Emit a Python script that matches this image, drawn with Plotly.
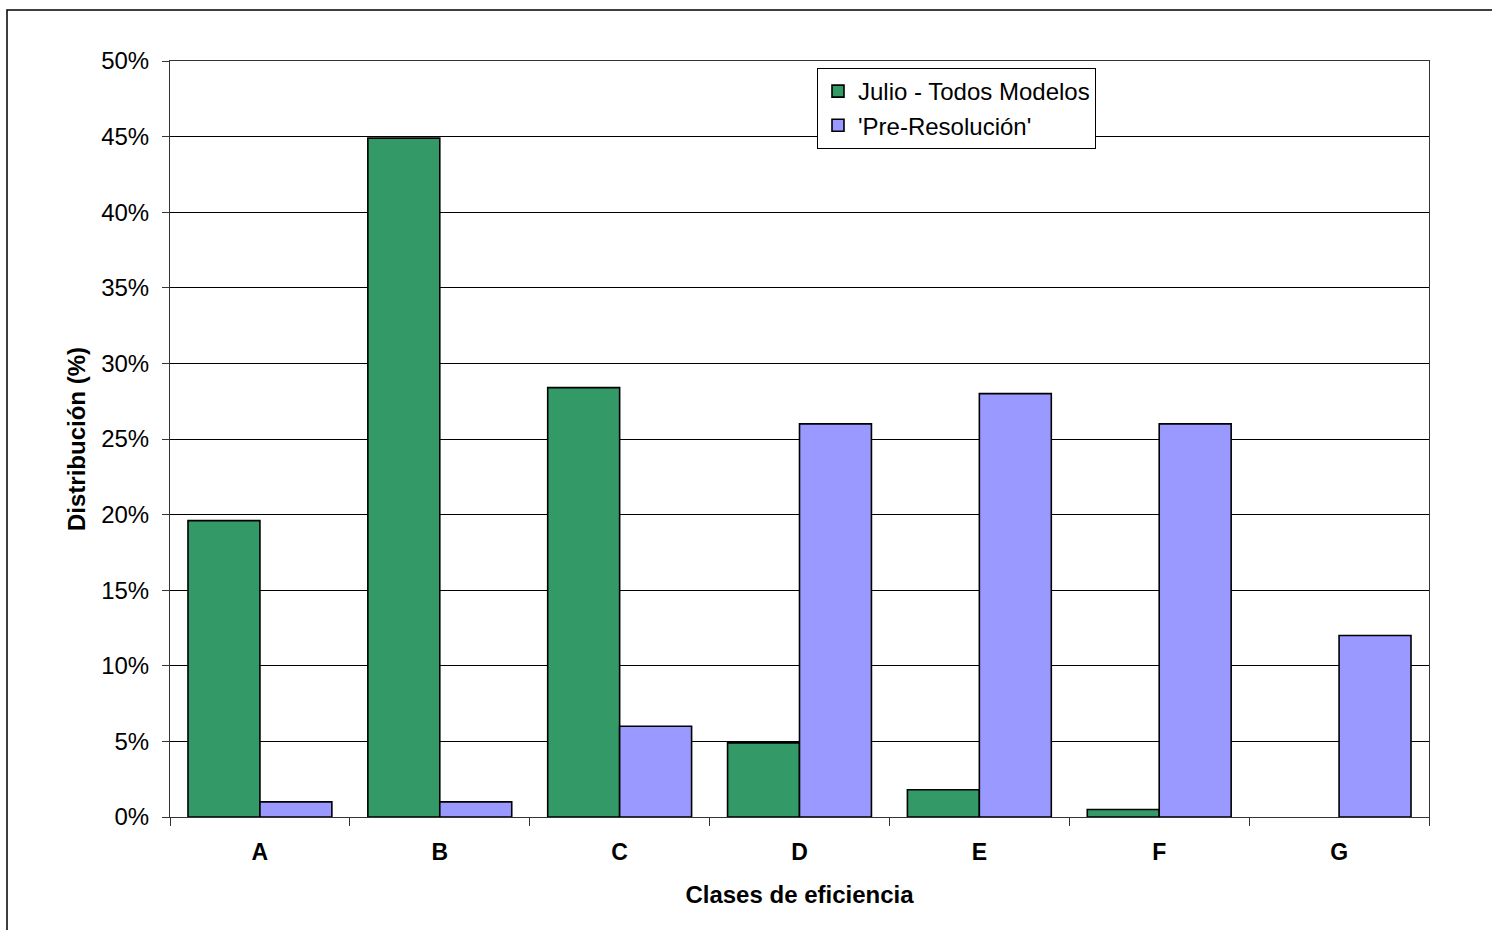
import plotly.graph_objects as go

categories = ["A", "B", "C", "D", "E", "F", "G"]
julio_todos = [19.6, 44.9, 28.4, 4.9, 1.8, 0.5, 0.0]
pre_resolucion = [1.0, 1.0, 6.0, 26.0, 28.0, 26.0, 12.0]
y_ticks = [0, 5, 10, 15, 20, 25, 30, 35, 40, 45, 50]
y_tick_text = [f"{v}%" for v in y_ticks]

FONT = "Arial, Liberation Sans, sans-serif"

# empty categories get no outline so no stray line sits on the axis
julio_outline = [1.6 if v > 0 else 0 for v in julio_todos]
pre_outline = [1.6 if v > 0 else 0 for v in pre_resolucion]

fig = go.Figure()
fig.add_trace(go.Bar(
    x=categories, y=julio_todos, name="Julio - Todos Modelos",
    marker=dict(color="#339966", line=dict(color="#000000", width=julio_outline)),
))
fig.add_trace(go.Bar(
    x=categories, y=pre_resolucion, name="'Pre-Resolución'",
    marker=dict(color="#9999FF", line=dict(color="#000000", width=pre_outline)),
))

W, H = 1492, 930
L, R, T, B = 170, 63, 61, 113
pw, ph = W - L - R, H - T - B

fig.update_layout(
    width=W, height=H,
    margin=dict(l=L, r=R, t=T, b=B),
    paper_bgcolor="white", plot_bgcolor="white",
    barmode="group", bargap=0.2, bargroupgap=0,
    font=dict(family=FONT, color="black", size=24),
    showlegend=True,
    legend=dict(
        x=(817 - L) / pw, y=(817 - 68) / ph, xanchor="left", yanchor="top",
        bgcolor="white", bordercolor="black", borderwidth=1,
        font=dict(family=FONT, size=24, color="black"),
        tracegroupgap=0, itemwidth=30,
    ),
    xaxis=dict(
        showgrid=False, ticks="outside", tickson="boundaries", ticklen=8,
        tickcolor="#333333", showline=True, linecolor="#333333", linewidth=1,
        mirror=True, ticklabelstandoff=14,
        tickfont=dict(family=FONT, size=23, color="black", weight="bold"),
        title=dict(text="<b>Clases de eficiencia</b>", standoff=22,
                   font=dict(family=FONT, size=24, color="black")),
    ),
    yaxis=dict(
        range=[0, 50], tickvals=y_ticks, ticktext=y_tick_text,
        showgrid=True, gridcolor="#000000", gridwidth=1,
        ticks="outside", ticklen=7, tickcolor="#333333",
        showline=True, linecolor="#333333", linewidth=1, mirror=True,
        zeroline=False, ticklabelstandoff=8,
        tickfont=dict(family=FONT, size=24, color="black"),
        title=dict(text="<b>Distribución (%)</b>", standoff=8,
                   font=dict(family=FONT, size=24, color="black")),
    ),
    shapes=[dict(
        type="rect", xref="paper", yref="paper",
        x0=(7 - L) / pw, x1=(W + 20 - L) / pw,
        y0=(817 - (H + 20)) / ph, y1=(817 - 10) / ph,
        line=dict(color="#000000", width=1.5), fillcolor="rgba(0,0,0,0)",
        layer="below",
    )],
)

fig.write_html("out.html")
